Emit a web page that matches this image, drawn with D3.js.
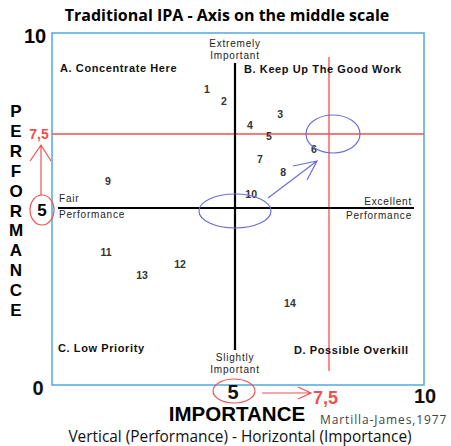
<!DOCTYPE html>
<html>
<head>
<meta charset="utf-8">
<script src="https://cdn.jsdelivr.net/npm/d3@7"></script>
<style>
  body { margin: 0; background: #fff; }
  svg { display: block; }
</style>
</head>
<body>
<div id="wrapper"></div>
<script>
// attribute points (importance, performance)
const labels      = ["1", "2", "3", "4", "5", "6", "7", "8", "9", "10", "11", "12", "13", "14"];
const importance  = [4.23, 4.70, 6.20, 5.40, 5.90, 7.10, 5.66, 6.28, 1.53, 5.43, 1.48, 3.50, 2.46, 6.46];
const performance = [8.61, 8.32, 7.99, 7.72, 7.43, 6.99, 6.66, 6.22, 5.91, 5.47, 3.76, 3.42, 3.11, 2.32];

const axisTicks = [0, 5, 7.5, 10];
const tickText  = ["0", "5", "7,5", "10"];
const perfLetters = "PERFORMANCE".split("");

const dimension = {
    width: 451,
    height: 446,
    frame: { left: 52, right: 424, top: 33, bottom: 385 }
}

// the original drawing is not evenly spaced, so the scale has a knot at each tick
const xScaler = d3.scaleLinear()
    .domain(axisTicks)
    .range([52, 235, 329, 424]);
const yScaler = d3.scaleLinear()
    .domain(axisTicks)
    .range([385, 208, 134, 33]);

const svg = d3.select("#wrapper")
    .append("svg")
    .attr("width", dimension.width)
    .attr("height", dimension.height);

const arial = "'Liberation Sans', Arial, sans-serif";
const calibri = "'Open Sans', 'Noto Sans', sans-serif";
const red = "#f0504f";
const blue = "#6a6fd6";

svg.append("text")
    .attr("x", 227).attr("y", 21)
    .attr("text-anchor", "middle")
    .style("font-family", calibri).style("font-weight", "bold").style("font-size", "16px")
    .text("Traditional IPA - Axis on the middle scale");

// blue frame
svg.append("rect")
    .attr("x", dimension.frame.left).attr("y", dimension.frame.top)
    .attr("width", dimension.frame.right - dimension.frame.left)
    .attr("height", dimension.frame.bottom - dimension.frame.top)
    .attr("fill", "none").attr("stroke", "#4fa8e0").attr("stroke-width", 1.5);

// red 7,5 lines
svg.append("line")
    .attr("x1", xScaler(7.5)).attr("x2", xScaler(7.5))
    .attr("y1", 57).attr("y2", 371)
    .attr("stroke", red).attr("stroke-width", 1.3);
svg.append("line")
    .attr("x1", xScaler(0)).attr("x2", xScaler(10))
    .attr("y1", yScaler(7.5)).attr("y2", yScaler(7.5))
    .attr("stroke", red).attr("stroke-width", 1.3);

// black middle axes
svg.append("line")
    .attr("x1", xScaler(5)).attr("x2", xScaler(5))
    .attr("y1", 63).attr("y2", 350)
    .attr("stroke", "#000").attr("stroke-width", 2.2);
svg.append("line")
    .attr("x1", 58).attr("x2", 414)
    .attr("y1", yScaler(5)).attr("y2", yScaler(5))
    .attr("stroke", "#000").attr("stroke-width", 2.2);

// small texts inside the grid
const small = [
    { t: "Extremely", x: 235, y: 47, a: "middle" },
    { t: "Important", x: 235, y: 58.5, a: "middle" },
    { t: "Slightly", x: 235, y: 361, a: "middle" },
    { t: "Important", x: 235, y: 372.5, a: "middle" },
    { t: "Fair", x: 59, y: 202, a: "start" },
    { t: "Performance", x: 59, y: 218, a: "start" },
    { t: "Excellent", x: 412, y: 205, a: "end" },
    { t: "Performance", x: 412, y: 219, a: "end" }
];
svg.append("g").selectAll("text")
    .data(small).enter().append("text")
    .attr("x", d => d.x).attr("y", d => d.y)
    .attr("text-anchor", d => d.a)
    .style("font-family", arial).style("font-size", "10px").style("letter-spacing", "0.8px").style("fill", "#222")
    .text(d => d.t);

const quads = [
    { t: "A. Concentrate Here", x: 60, y: 72 },
    { t: "B. Keep Up The Good Work", x: 244, y: 73 },
    { t: "C. Low Priority", x: 58, y: 352 },
    { t: "D. Possible Overkill", x: 294, y: 354 }
];
svg.append("g").selectAll("text")
    .data(quads).enter().append("text")
    .attr("x", d => d.x).attr("y", d => d.y)
    .style("font-family", arial).style("font-weight", "bold").style("font-size", "11px")
    .style("letter-spacing", "0.6px").style("fill", "#111")
    .text(d => d.t);

// numbered attributes
svg.append("g").selectAll("text")
    .data(labels).enter().append("text")
    .attr("x", (d, i) => xScaler(importance[i]))
    .attr("y", (d, i) => yScaler(performance[i]))
    .attr("dy", "0.35em")
    .attr("text-anchor", "middle")
    .style("font-family", arial).style("font-weight", "bold").style("font-size", "10.5px").style("fill", "#333")
    .text(d => d);

// blue annotations
svg.append("ellipse")
    .attr("cx", xScaler(5)).attr("cy", yScaler(5) + 3)
    .attr("rx", 36).attr("ry", 17)
    .attr("fill", "none").attr("stroke", blue).attr("stroke-width", 1.2);
svg.append("ellipse")
    .attr("cx", xScaler(7.5) + 4).attr("cy", yScaler(7.5))
    .attr("rx", 27).attr("ry", 19)
    .attr("fill", "none").attr("stroke", blue).attr("stroke-width", 1.2);
svg.append("path")
    .attr("d", "M268,198 L317,161 M293,166 L317,161 L307,180")
    .attr("fill", "none").attr("stroke", blue).attr("stroke-width", 1.2);

// axis tick labels, bottom
const tickY = [395, 399, 404, 403];
svg.append("g").selectAll("text")
    .data(axisTicks).enter().append("text")
    .attr("x", d => d === 0 ? 38 : d === 10 ? 425 : d === 7.5 ? 313 : xScaler(d) - 2)
    .attr("y", (d, i) => tickY[i])
    .attr("text-anchor", d => d === 7.5 ? "start" : "middle")
    .style("font-family", arial).style("font-weight", "bold")
    .style("font-size", d => d === 7.5 ? "18px" : "20px")
    .style("fill", d => d === 7.5 ? red : "#111")
    .text((d, i) => tickText[i]);

// top left 10
svg.append("text")
    .attr("x", 35).attr("y", 43)
    .attr("text-anchor", "middle")
    .style("font-family", arial).style("font-weight", "bold").style("font-size", "20px")
    .text(tickText[3]);

// red marks on the x axis
svg.append("ellipse")
    .attr("cx", 234).attr("cy", 391).attr("rx", 21).attr("ry", 12)
    .attr("fill", "none").attr("stroke", red).attr("stroke-width", 1.2);
svg.append("path")
    .attr("d", "M262,393 L311,393 M298,387 L311,393 L298,399")
    .attr("fill", "none").attr("stroke", red).attr("stroke-width", 1.2);

// left side: 7,5 and 5 with red arrow
svg.append("text")
    .attr("x", 39).attr("y", 139)
    .attr("text-anchor", "middle")
    .style("font-family", arial).style("font-weight", "bold").style("font-size", "14px").style("fill", red)
    .text(tickText[2]);
svg.append("text")
    .attr("x", 42).attr("y", 216)
    .attr("text-anchor", "middle")
    .style("font-family", arial).style("font-weight", "bold").style("font-size", "17px")
    .text(tickText[1]);
svg.append("ellipse")
    .attr("cx", 42).attr("cy", 210).attr("rx", 12).attr("ry", 15)
    .attr("fill", "none").attr("stroke", red).attr("stroke-width", 1.2);
svg.append("path")
    .attr("d", "M41,195 L41,145 M30,161 L41,145 L51,161")
    .attr("fill", "none").attr("stroke", red).attr("stroke-width", 1.2);

// PERFORMANCE written down the side
svg.append("g").selectAll("text")
    .data(perfLetters).enter().append("text")
    .attr("x", 16)
    .attr("y", (d, i) => 117 + i * 19.9)
    .attr("text-anchor", "middle")
    .style("font-family", arial).style("font-weight", "bold").style("font-size", "17px")
    .text(d => d);

svg.append("text")
    .attr("x", 237).attr("y", 421)
    .attr("text-anchor", "middle")
    .style("font-family", arial).style("font-weight", "bold").style("font-size", "20.5px")
    .text("IMPORTANCE");

svg.append("text")
    .attr("x", 320).attr("y", 424)
    .style("font-family", calibri).style("font-size", "12px").style("letter-spacing", "0.9px").style("fill", "#444")
    .text("Martilla-James,1977");

svg.append("text")
    .attr("x", 240).attr("y", 442)
    .attr("text-anchor", "middle")
    .style("font-family", calibri).style("font-size", "15.4px").style("fill", "#111")
    .text("Vertical (Performance) - Horizontal (Importance)");
</script>
</body>
</html>
